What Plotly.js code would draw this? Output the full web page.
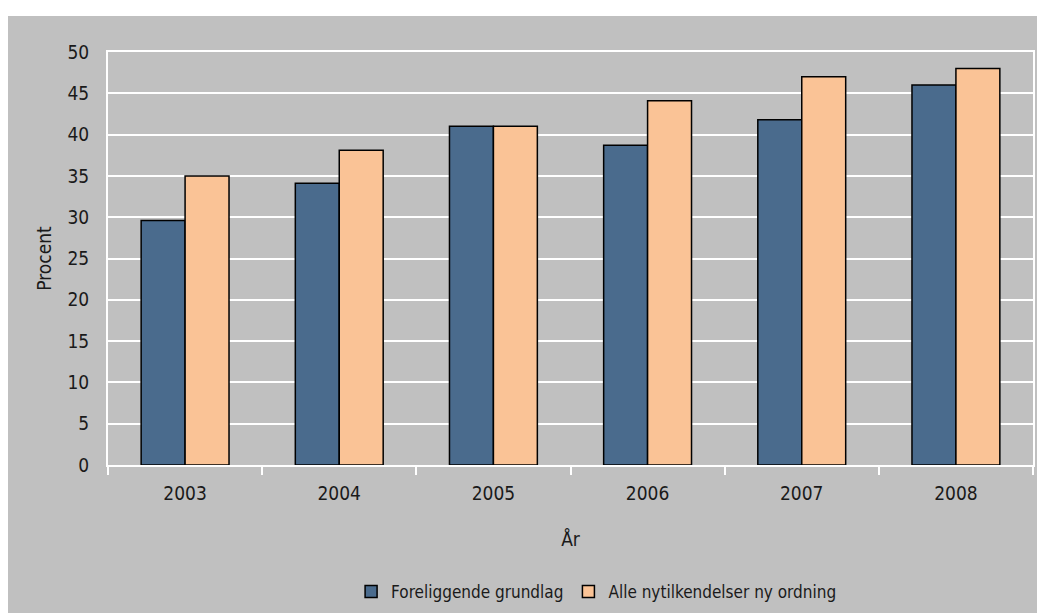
<!DOCTYPE html>
<html>
<head>
<meta charset="utf-8">
<script src="https://cdn.plot.ly/plotly-3.0.1.min.js"></script>
<style>
html, body { margin: 0; padding: 0; background: #ffffff; }
#chart { position: absolute; left: 8px; top: 16px; width: 1029px; height: 597px; }
</style>
</head>
<body>
<div id="chart"></div>
<script>
const years = ["2003", "2004", "2005", "2006", "2007", "2008"];
const foreliggende = [29.6, 34.1, 41.0, 38.7, 41.8, 46.0];
const alleNy = [35.0, 38.1, 41.0, 44.1, 47.0, 48.0];
const seriesNames = ["Foreliggende grundlag", "Alle nytilkendelser ny ordning"];
const yTicks = [0, 5, 10, 15, 20, 25, 30, 35, 40, 45, 50];

const FONT = '"DejaVu Sans Condensed", "Liberation Sans Narrow", sans-serif';
const TXT = '#1a1a1a';

const traces = [
  {
    type: 'bar', name: seriesNames[0], x: years, y: foreliggende,
    marker: { color: '#4a6b8d', line: { color: '#000000', width: 1.5 } },
    hoverinfo: 'none'
  },
  {
    type: 'bar', name: seriesNames[1], x: years, y: alleNy,
    marker: { color: '#fac396', line: { color: '#000000', width: 1.5 } },
    hoverinfo: 'none'
  }
];

const layout = {
  width: 1029, height: 597,
  paper_bgcolor: '#c0c0c0',
  plot_bgcolor: '#c0c0c0',
  font: { family: FONT, size: 18, color: TXT },
  margin: { l: 100, r: 4, t: 36, b: 148 },
  barmode: 'group',
  bargap: 0.43,
  bargroupgap: 0,
  showlegend: true,
  legend: {
    orientation: 'h', x: 0.572, xanchor: 'center', xref: 'container',
    y: 0.005, yanchor: 'bottom', yref: 'container',
    bgcolor: 'rgba(0,0,0,0)', font: { family: FONT, size: 17, color: TXT },
    itemwidth: 30, tracegroupgap: 0
  },
  xaxis: {
    type: 'category',
    showgrid: false,
    showline: true, linecolor: '#ffffff', linewidth: 2, mirror: true,
    ticks: 'outside', tickson: 'boundaries', tickcolor: '#ffffff', ticklen: 8, tickwidth: 2,
    ticklabelstandoff: 10,
    tickfont: { family: FONT, size: 19, color: TXT },
    title: { text: 'År', font: { family: FONT, size: 19, color: TXT }, standoff: 30 },
    fixedrange: true
  },
  yaxis: {
    range: [0, 50],
    tickvals: yTicks,
    ticktext: yTicks.map(String),
    showgrid: true, gridcolor: '#ffffff', gridwidth: 2,
    showline: true, linecolor: '#ffffff', linewidth: 2, mirror: true,
    zeroline: false,
    ticks: '', ticklabelstandoff: 13,
    tickfont: { family: FONT, size: 19, color: TXT },
    title: { text: 'Procent', font: { family: FONT, size: 19, color: TXT }, standoff: 11 },
    fixedrange: true
  }
};

Plotly.newPlot('chart', traces, layout, { displayModeBar: false, staticPlot: true });
</script>
</body>
</html>
